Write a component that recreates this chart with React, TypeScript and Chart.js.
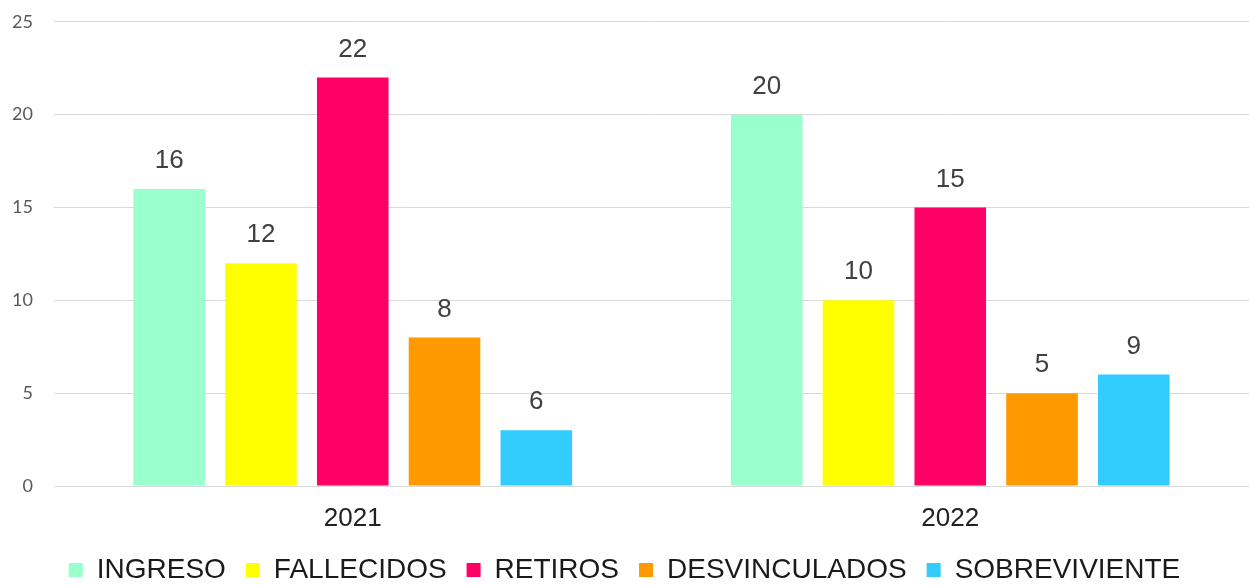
import React, { useEffect, useRef } from "react";
import { Chart, registerables } from "chart.js";

Chart.register(...registerables);

const categories = ["2021", "2022"];
const seriesNames = ["INGRESO", "FALLECIDOS", "RETIROS", "DESVINCULADOS", "SOBREVIVIENTE"];
const seriesColors = ["#99FFCC", "#FFFF00", "#FF0066", "#FF9900", "#33CCFF"];
const ingreso = [16, 20];
const fallecidos = [12, 10];
const retiros = [22, 15];
const desvinculados = [8, 5];
const sobreviviente = [3, 6];
const ingresoLabels = ["16", "20"];
const fallecidosLabels = ["12", "10"];
const retirosLabels = ["22", "15"];
const desvinculadosLabels = ["8", "5"];
const sobrevivienteLabels = ["6", "9"];
const yTicks = [0, 5, 10, 15, 20, 25];

const seriesValues = [ingreso, fallecidos, retiros, desvinculados, sobreviviente];
const seriesLabels = [ingresoLabels, fallecidosLabels, retirosLabels, desvinculadosLabels, sobrevivienteLabels];

const FONT = "'Liberation Sans', Arial, sans-serif";

const labelPlugin = {
  id: "valueLabels",
  afterDatasetsDraw(chart: any) {
    const ctx = chart.ctx;
    ctx.save();
    ctx.font = "26px " + FONT;
    ctx.fillStyle = "#404040";
    ctx.textAlign = "center";
    ctx.textBaseline = "middle";
    chart.data.datasets.forEach((ds: any, i: number) => {
      const meta = chart.getDatasetMeta(i);
      meta.data.forEach((bar: any, j: number) => {
        ctx.fillText(ds.valueLabels[j], bar.x, bar.y - 28);
      });
    });
    ctx.restore();
  },
};

export default function App() {
  const ref = useRef<HTMLCanvasElement>(null);
  useEffect(() => {
    if (!ref.current) return;
    const chart = new Chart(ref.current, {
      type: "bar",
      data: {
        labels: categories,
        datasets: seriesNames.map((name, i) => ({
          label: name,
          data: seriesValues[i],
          valueLabels: seriesLabels[i],
          backgroundColor: seriesColors[i],
          categoryPercentage: 0.768,
          barPercentage: 0.78,
        })) as any,
      },
      options: {
        animation: false,
        responsive: true,
        maintainAspectRatio: false,
        layout: { padding: { top: 0, left: 0, right: 0, bottom: 0 } },
        plugins: {
          tooltip: { enabled: false },
          legend: {
            position: "bottom",
            labels: {
              boxWidth: 14,
              boxHeight: 14,
              padding: 20,
              color: "#1a1a1a",
              font: { size: 28, family: FONT },
            },
          },
        },
        scales: {
          x: {
            grid: { display: false, drawTicks: false },
            border: { display: false },
            afterFit: (axis: any) => {
              axis.height = 50;
            },
            ticks: {
              padding: 17,
              color: "#222",
              font: { size: 26, family: FONT },
            },
          },
          y: {
            min: 0,
            max: 25,
            afterBuildTicks: (axis: any) => {
              axis.ticks = yTicks.map((v) => ({ value: v }));
            },
            afterFit: (axis: any) => {
              axis.width = 54;
            },
            grid: { color: "#d9d9d9", lineWidth: 1, drawTicks: false },
            border: { display: false },
            ticks: {
              padding: 21,
              color: "#595959",
              font: { size: 18, family: "Lato, 'Open Sans', sans-serif" },
            },
          },
        },
      },
      plugins: [labelPlugin],
    });
    return () => chart.destroy();
  }, []);
  return (
    <div style={{ position: "fixed", left: 0, top: -10, width: 1249, height: 604 }}>
      <canvas ref={ref} />
    </div>
  );
}
